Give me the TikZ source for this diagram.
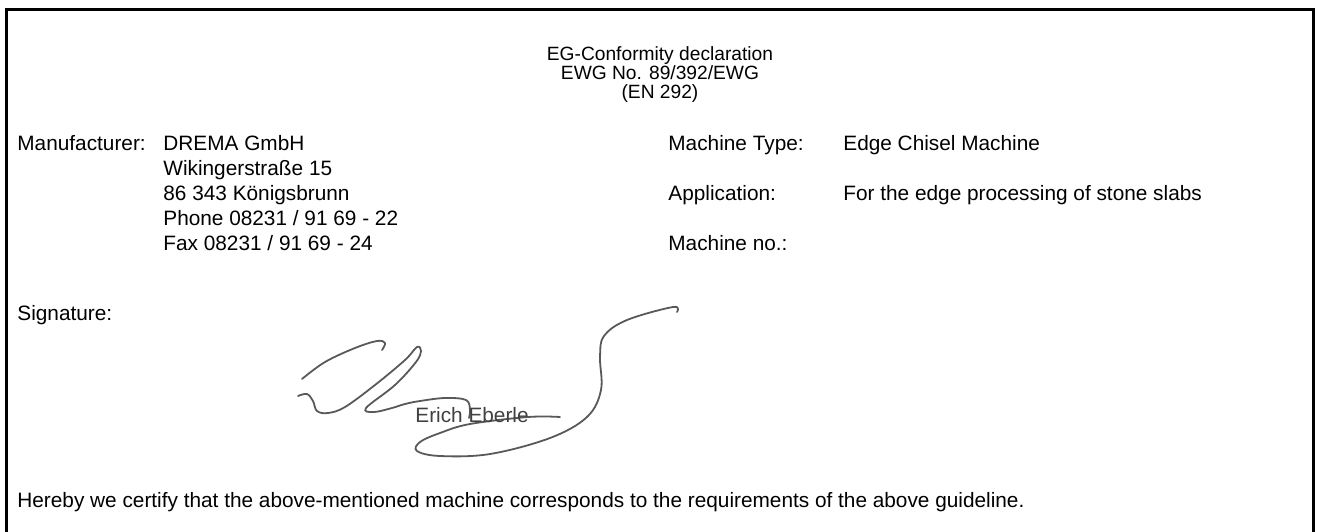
\documentclass[tikz,border=0pt]{standalone}
\usepackage{fontspec}
\setmainfont{Liberation Sans}
\usetikzlibrary{positioning}
\tikzset{
    txt/.style={anchor=base west, inner sep=0pt, font=\fontsize{10.4}{12}\selectfont},
    ctr/.style={anchor=base, inner sep=0pt, font=\fontsize{9.6}{11}\selectfont},
    frameBox/.style={draw=black, line width=1.5pt},
    signLine/.style={draw=black!65, line width=0.9pt, line cap=round, line join=round},
}
\begin{document}
\begin{tikzpicture}[x=0.5pt, y=-0.5pt]
    \useasboundingbox (0,0) rectangle (1318,531);
    \draw[frameBox] (6,9) rectangle (1313,580);

    % title
    \node[ctr] (t1) at (660,60) {EG-Conformity declaration};
    \node[ctr] (t2) at (660,79) {EWG No. 89/392/EWG};
    \node[ctr] (t3) at (660,98) {(EN 292)};

    % manufacturer
    \node[txt] (man) at (17,150) {Manufacturer:};
    \node[txt] (a1) at (163,150) {DREMA GmbH};
    \node[txt] (a2) at (163,175) {Wikingerstraße 15};
    \node[txt] (a3) at (163,200) {86 343 Königsbrunn};
    \node[txt] (a4) at (163,225) {Phone 08231 / 91 69 - 22};
    \node[txt] (a5) at (163,250) {Fax 08231 / 91 69 - 24};

    % machine
    \node[txt] (mt) at (668,150) {Machine Type:};
    \node[txt] (mtv) at (843,150) {Edge Chisel Machine};
    \node[txt] (ap) at (668,200) {Application:};
    \node[txt] (apv) at (843,200) {For the edge processing of stone slabs};
    \node[txt] (mn) at (668,250) {Machine no.:};

    % signature
    \node[txt] (sig) at (17,320) {Signature:};
    \draw[signLine] plot[smooth, tension=0.6] coordinates {(382,350) (385,343) (377,341) (355,348) (325,362) (302,379)};
    \draw[signLine] plot[smooth, tension=0.6] coordinates {(298,396) (307,394) (313,401) (317,411) (328,413) (345,407) (375,385) (405,360) (417,347) (421,351) (416,362) (395,385) (366,408) (374,412) (392,408) (405,404) (420,401) (445,398) (466,400) (470,410) (469,418)};
    \draw[signLine] plot[smooth, tension=0.6] coordinates {(560,417) (528,417) (470,424) (440,433) (420,442) (417,451) (440,456) (490,454) (550,438) (587,417) (601,390) (600,357) (604,336) (627,320) (673,307) (677,312)};
    \node[txt, text=black!75] (name) at (415,422) {Erich Eberle};

    % statement
    \node[txt] (cert) at (17,507) {Hereby we certify that the above-mentioned machine corresponds to the requirements of the above guideline.};
\end{tikzpicture}
\end{document}
